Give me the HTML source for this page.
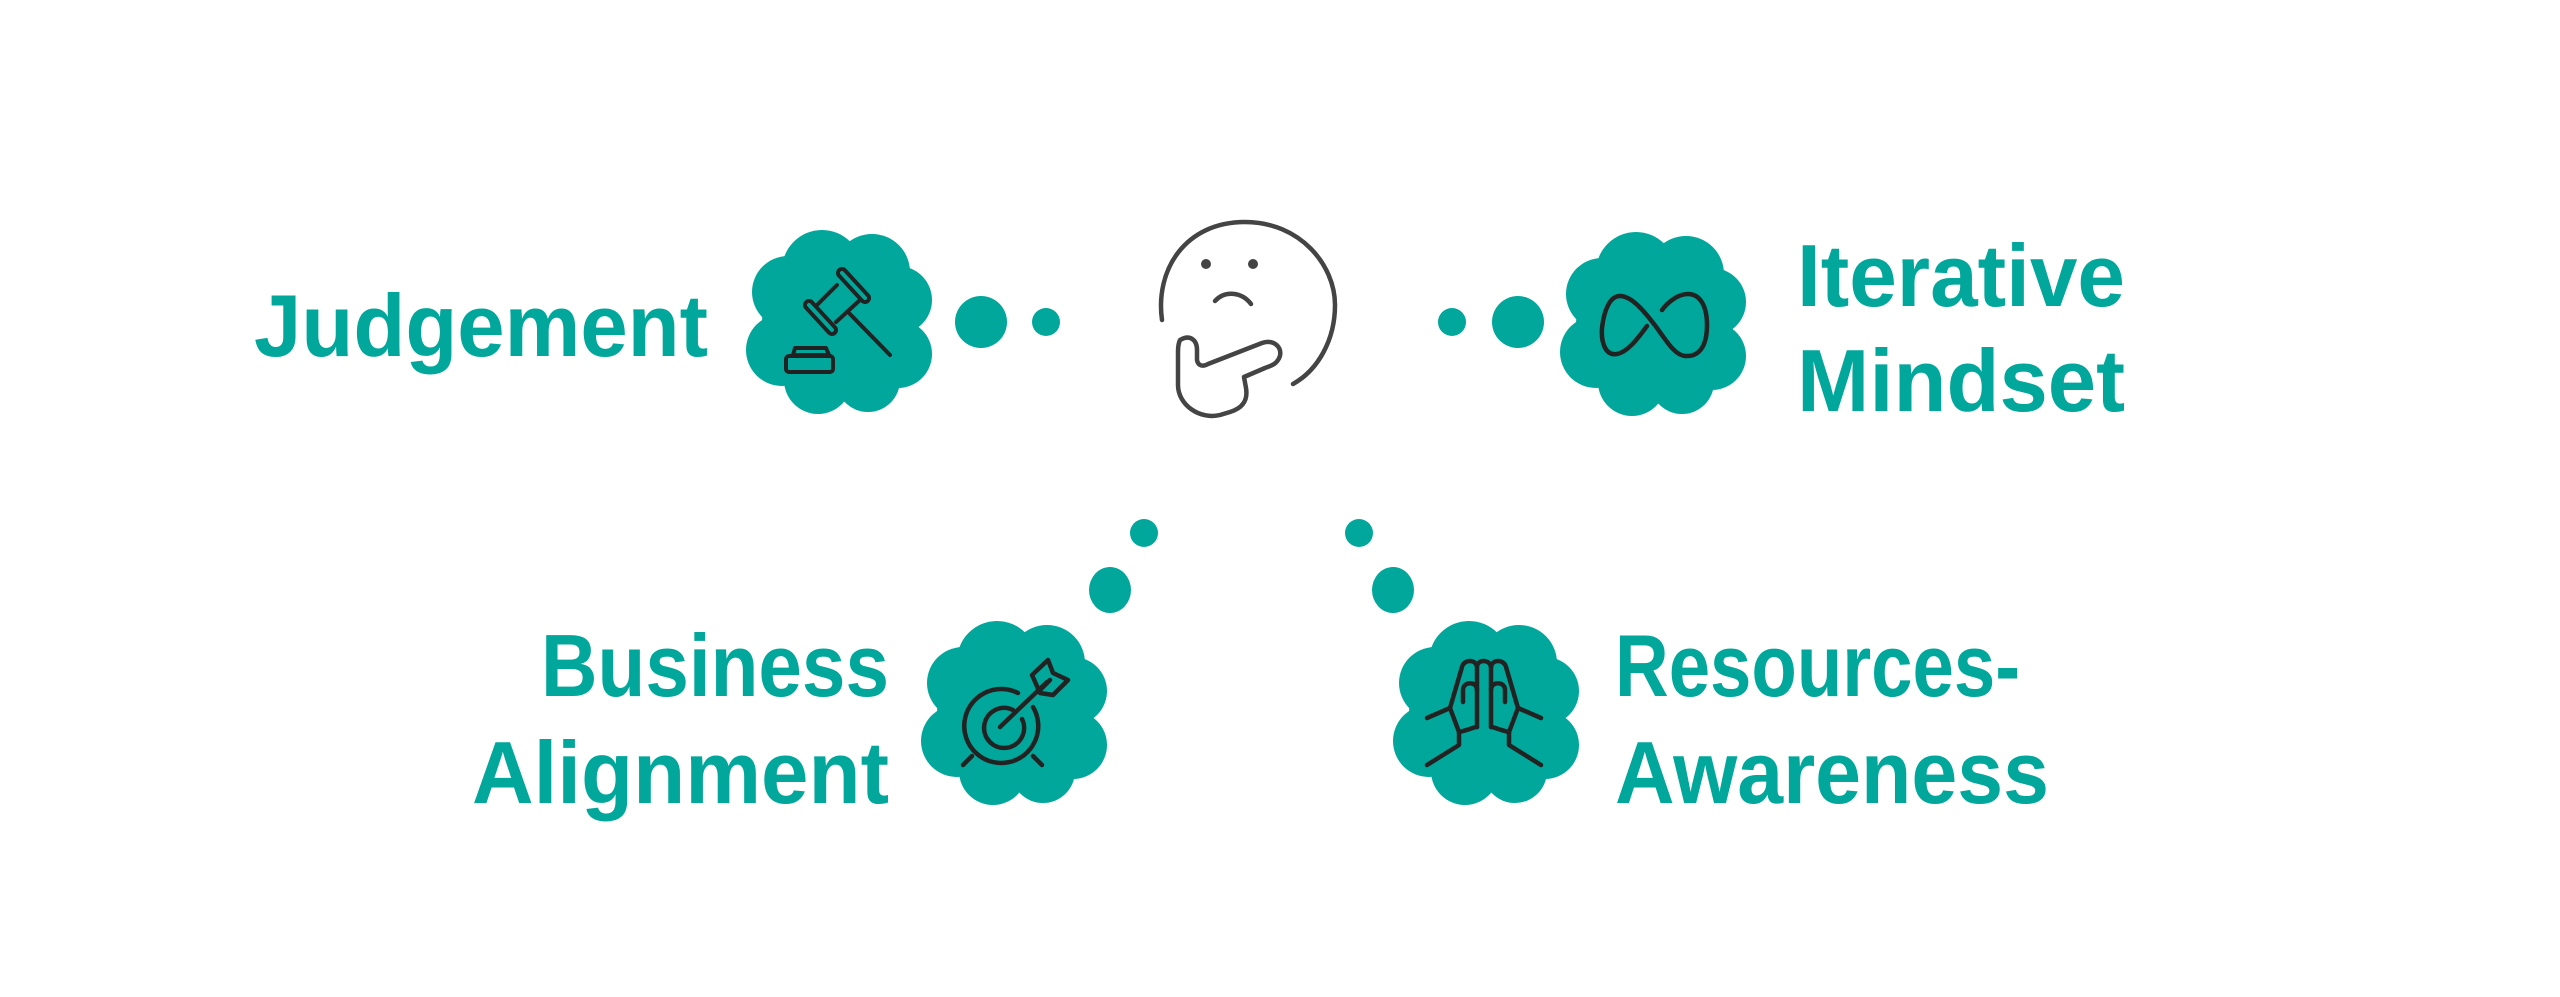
<!DOCTYPE html>
<html><head><meta charset="utf-8"><style>
html,body{margin:0;padding:0;background:#fff;width:2560px;height:997px;overflow:hidden}
text{font-family:"Liberation Sans",sans-serif;font-weight:bold;fill:#00a79a}
</style></head><body>
<svg width="2560" height="997" viewBox="0 0 2560 997" xmlns="http://www.w3.org/2000/svg">
<defs>
<g id="cloud" fill="#00a79a">
<circle cx="0" cy="0" r="78"/>
<circle cx="-18" cy="-52" r="40"/>
<circle cx="32" cy="-50" r="38"/>
<circle cx="-52" cy="-30" r="36"/>
<circle cx="58" cy="-22" r="34"/>
<circle cx="-58" cy="28" r="36"/>
<circle cx="58" cy="32" r="34"/>
<circle cx="-22" cy="58" r="34"/>
<circle cx="28" cy="58" r="32"/>
</g>
</defs>
<text x="254" y="356" font-size="88" textLength="454" lengthAdjust="spacingAndGlyphs">Judgement</text>
<text x="1797" y="306" font-size="88" textLength="328" lengthAdjust="spacingAndGlyphs">Iterative</text>
<text x="1797" y="411" font-size="88" textLength="328" lengthAdjust="spacingAndGlyphs">Mindset</text>
<text x="541" y="696" font-size="88" textLength="348" lengthAdjust="spacingAndGlyphs">Business</text>
<text x="472" y="803" font-size="88" textLength="417" lengthAdjust="spacingAndGlyphs">Alignment</text>
<text x="1615" y="696" font-size="88" textLength="405" lengthAdjust="spacingAndGlyphs">Resources-</text>
<text x="1615" y="803" font-size="88" textLength="434" lengthAdjust="spacingAndGlyphs">Awareness</text>

<use href="#cloud" x="840" y="322"/>
<use href="#cloud" x="1654" y="324"/>
<use href="#cloud" x="1015" y="713"/>
<use href="#cloud" x="1487" y="713"/>

<g fill="#00a79a">
<ellipse cx="981" cy="322" rx="26" ry="26"/>
<circle cx="1046" cy="322" r="14"/>
<circle cx="1452" cy="322" r="14"/>
<ellipse cx="1518" cy="322" rx="26" ry="26"/>
<circle cx="1144" cy="533" r="14"/>
<ellipse cx="1110" cy="590" rx="21" ry="23"/>
<circle cx="1359" cy="533" r="14"/>
<ellipse cx="1393" cy="590" rx="21" ry="23"/>
</g>

<g fill="none" stroke="#444" stroke-width="4.5" stroke-linecap="round" stroke-linejoin="round">
<path d="M1162 320 C1155 270 1185 222 1245 222 C1300 222 1335 265 1335 305 C1335 340 1318 370 1293 384"/>
<path d="M1215 301 C1225 290 1242 292 1251 304"/>
<path d="M1180 340 C1190 334 1197 340 1197 350 L1197 360 C1198 366 1203 367 1208 364 L1262 343 C1275 338 1285 350 1278 360 C1275 365 1270 366 1265 368 L1244 377 L1246 388 C1248 400 1243 408 1230 412 L1220 415 C1200 420 1178 405 1178 385 L1178 352 C1178 345 1179 342 1180 340 Z"/>
</g>
<circle cx="1206" cy="264" r="5" fill="#444"/>
<circle cx="1253" cy="264" r="5" fill="#444"/>

<!-- gavel -->
<g fill="none" stroke="#222" stroke-width="4" stroke-linecap="round" stroke-linejoin="round">
<line x1="842" y1="273" x2="865" y2="298" stroke-width="12"/>
<line x1="809" y1="305" x2="832" y2="330" stroke-width="12"/>
<line x1="837" y1="285" x2="815" y2="307"/>
<line x1="860" y1="300" x2="836" y2="322"/>
<line x1="848" y1="312" x2="890" y2="355"/>
<path d="M795 348 L826 348 L829 355 L793 355 Z"/>
<rect x="786" y="356" width="47" height="16" rx="3"/>
</g>
<g stroke="#00a79a" stroke-width="4" stroke-linecap="round">
<line x1="842" y1="273" x2="865" y2="298"/>
<line x1="809" y1="305" x2="832" y2="330"/>
</g>

<!-- infinity -->
<g fill="none" stroke="#222" stroke-width="4.5" stroke-linecap="round">
<path d="M1647 326 C1638 338 1628 352 1617 354 C1605 356 1601 342 1602 328 C1604 310 1610 296 1620 296 C1632 296 1645 312 1657 328 C1667 342 1675 355 1685 356 C1700 357 1707 345 1707 325 C1707 306 1700 294 1688 294 C1678 294 1668 302 1662 310"/>
</g>

<!-- target -->
<g fill="none" stroke="#222" stroke-width="4.5" stroke-linecap="round" stroke-linejoin="round">
<path d="M1033 707 A37 37 0 1 1 1018 693" transform="rotate(0)"/>
<path d="M1033 706 A36 36 0 1 1 1024 694" stroke="none"/>
<path d="M1031 708 A36 36 0 1 1 1019 692" stroke="none"/>
<path d="M1022 719 A20 20 0 1 1 1013 710"/>
<path d="M1000 727 L1047 682"/>
<path d="M1032 675 L1048 660 L1053 673 L1068 680 L1053 695 L1040 693 Z"/>
<path d="M1040 690 L1050 680"/>
<path d="M963 765 L972 756 M1042 765 L1033 756"/>
</g>

<!-- hands -->
<g fill="none" stroke="#222" stroke-width="4.5" stroke-linecap="round" stroke-linejoin="round">
<path d="M1477 727 L1477 667 C1477 659 1490 659 1491 667 M1477 667 C1476 659 1464 659 1462 667 L1450 708 L1459 732 L1459 745 L1427 765"/>
<path d="M1491 727 L1491 667 M1491 667 C1492 659 1504 659 1506 667 L1518 708 L1509 732 L1509 745 L1541 765"/>
<path d="M1450 708 L1427 718 M1518 708 L1541 718"/>
<path d="M1463 702 L1463 690 C1463 681 1477 681 1477 690 M1491 690 C1491 681 1505 681 1505 690 L1505 702"/>
<path d="M1459 732 C1469 730 1477 726 1477 727 M1509 732 C1499 730 1491 726 1491 727"/>
</g>
</svg>
</body></html>
